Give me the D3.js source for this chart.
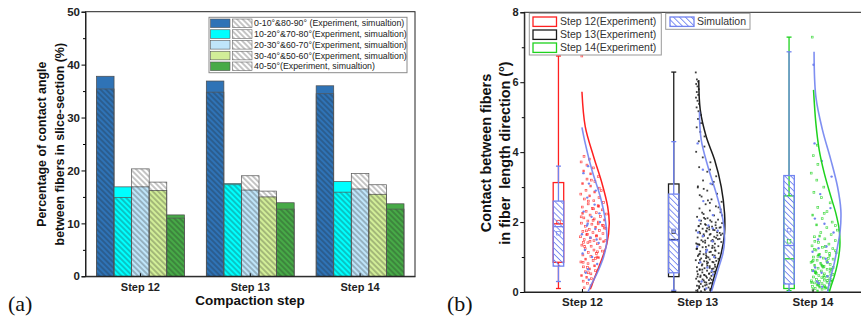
<!DOCTYPE html>
<html><head><meta charset="utf-8">
<script src="https://cdn.jsdelivr.net/npm/d3@7"></script>
<style>
html,body{margin:0;padding:0;background:#fff;}
svg{display:block;font-family:"Liberation Sans",Arial,sans-serif;}
</style>
</head><body>
<svg id="chart" width="861" height="320"></svg>
<script>
// ---------- Panel (a): share of contact angles per compaction step ----------
const steps = ["Step 12", "Step 13", "Step 14"];
const angleClasses = [
  "0-10°&80-90° (Experiment, simualtion)",
  "10-20°&70-80°(Experiment, simualtion)",
  "20-30°&60-70°(Experiment, simualtion)",
  "30-40°&50-60°(Experiment, simualtion)",
  "40-50°(Experiment, simualtion)"
];
// experiment (solid) and simulation (hatched) percentages, one row per step
const experimentPct = [
  [37.8, 16.9, 16.9, 16.2, 11.6],
  [36.9, 17.5, 16.3, 15.0, 13.9],
  [36.0, 17.9, 16.5, 15.5, 13.7]
];
const simulationPct = [
  [35.4, 14.9, 20.3, 17.8, 11.0],
  [34.8, 17.3, 19.0, 16.1, 12.7],
  [34.5, 15.9, 19.4, 17.3, 12.7]
];
const yTicksA = [0, 10, 20, 30, 40, 50];

// ---------- Panel (b): contact angle along the fibre length ----------
const expLabels = ["Step 12(Experiment)", "Step 13(Experiment)", "Step 14(Experiment)"];
const simLabel = "Simulation";
// box statistics (°)
const expBoxes = [
  {min: 0.10, q1: 0.85, med: 1.95, q3: 3.13, max: 6.75, mean: 2.00},
  {min: 0.02, q1: 0.44, med: 1.50, q3: 3.09, max: 6.29, mean: 1.72},
  {min: 0.04, q1: 0.10, med: 0.95, q3: 2.75, max: 7.29, mean: 1.45}
];
const simBoxes = [
  {min: 0.30, q1: 0.74, med: 1.87, q3: 2.60, max: 3.60, mean: 1.68},
  {min: 0.05, q1: 0.55, med: 1.48, q3: 2.80, max: 4.30, mean: 1.75},
  {min: 0.00, q1: 0.23, med: 1.33, q3: 3.33, max: 6.87, mean: 1.77}
];
// distribution curves: [angle, density]
const expCurves = [
  [[0.08,0.111],[0.34,0.156],[0.82,0.244],[1.39,0.333],[1.96,0.364],[2.44,0.343],[3.11,0.267],[3.87,0.156],[4.73,0.044],[5.73,0.0]],
  [[0.0,0.178],[0.3,0.209],[0.63,0.253],[1.11,0.32],[1.68,0.364],[2.25,0.364],[3.01,0.32],[3.78,0.231],[4.44,0.12],[5.21,0.04],[6.06,0.02]],
  [[0.0,0.223],[0.15,0.244],[0.44,0.289],[0.82,0.333],[1.3,0.364],[1.77,0.356],[2.25,0.311],[2.73,0.244],[3.4,0.156],[4.06,0.089],[4.83,0.044],[5.78,0.013]]
];
const simCurves = [
  [[0.0,0.08],[0.25,0.133],[0.53,0.2],[1.01,0.289],[1.49,0.333],[2.06,0.311],[2.73,0.244],[3.49,0.133],[4.25,0.044],[4.71,0.0]],
  [[0.0,0.187],[0.15,0.209],[0.63,0.276],[1.11,0.343],[1.49,0.364],[2.06,0.343],[2.82,0.253],[3.58,0.143],[4.35,0.053],[5.16,0.03]],
  [[0.0,0.2],[0.44,0.244],[0.82,0.289],[1.3,0.333],[1.77,0.369],[2.35,0.377],[3.01,0.333],[3.78,0.244],[4.63,0.133],[5.59,0.044],[6.87,0.02]]
];
// measured contact angles (°)
const expPoints12 = [0.12,0.18,0.25,0.31,0.38,0.42,0.47,0.52,0.58,0.61,0.66,0.72,0.75,0.81,0.86,0.9,0.94,0.98,1.02,1.06,1.1,1.13,1.17,1.2,1.24,1.27,1.31,1.34,1.38,1.41,1.44,1.47,1.5,1.52,1.55,1.58,1.61,1.64,1.67,1.7,1.73,1.76,1.79,1.82,1.85,1.88,1.91,1.94,1.97,2.0,2.03,2.06,2.09,2.12,2.16,2.2,2.23,2.27,2.31,2.35,2.39,2.43,2.47,2.52,2.56,2.61,2.66,2.7,2.75,2.8,2.86,2.91,2.97,3.03,3.1,3.16,3.23,3.3,3.38,3.46,3.55,3.63,3.72,3.8,3.88,6.75,
  0.55,0.85,1.15,1.45,1.48,1.6,1.75,1.9,2.05,2.25,2.45,2.6,2.9,3.2,1.3,1.0,0.7,2.15,1.95,1.65,1.83,2.38,1.42,0.96];
const expPoints13 = [0.02,0.05,0.08,0.11,0.13,0.16,0.18,0.21,0.23,0.26,0.28,0.31,0.34,0.36,0.38,0.41,0.43,0.46,0.48,0.51,0.53,0.56,0.58,0.61,0.63,0.66,0.68,0.71,0.74,0.76,0.78,0.81,0.83,0.86,0.88,0.91,0.93,0.96,0.98,1.01,1.03,1.06,1.08,1.11,1.14,1.16,1.18,1.21,1.23,1.26,1.28,1.31,1.33,1.36,1.38,1.41,1.43,1.46,1.48,1.51,1.54,1.56,1.58,1.61,1.63,1.66,1.68,1.71,1.73,1.76,1.78,1.81,1.84,1.86,1.88,1.91,1.94,1.97,2.01,2.04,2.07,2.11,2.15,2.19,2.23,2.28,2.33,2.39,2.45,2.51,2.58,2.65,2.73,2.81,2.9,2.99,3.08,3.19,3.31,3.44,3.57,3.71,3.85,4.01,4.16,4.31,4.45,4.58,4.71,4.83,4.95,5.06,5.17,5.28,5.38,5.47,5.56,5.64,5.72,5.8,5.88,5.95,6.02,6.08,6.28,
  0.06,0.14,0.24,0.33,0.44,0.52,0.64,0.72,0.84,0.92,1.04,1.12,1.24,1.32,1.44,1.52,1.64,1.72,1.83,1.92,0.09,0.19,0.29,0.39,0.49,0.59,0.69,0.79,0.89,0.99,1.09,1.19,1.29,1.39,1.49,1.59,1.69,1.79,1.89,1.99,2.09,2.19,0.45,0.65,0.85,1.05,1.25,1.45,1.65,1.85,2.05,1.35,1.55,1.75,0.95,1.15,2.27,2.42,2.62,3.02,3.5,2.95,0.35,0.75,1.95,1.62,1.82,
  0.04,0.27,0.47,0.67,0.87,1.07,1.27,1.47,1.67,1.87,0.17,0.57,0.97,1.37,1.77,2.12,2.36,2.55,2.77,3.15];
const expPoints14 = [0.03,0.05,0.08,0.1,0.12,0.14,0.16,0.18,0.2,0.22,0.24,0.26,0.28,0.3,0.32,0.34,0.36,0.38,0.41,0.43,0.45,0.47,0.5,0.52,0.55,0.57,0.6,0.62,0.65,0.68,0.7,0.73,0.76,0.79,0.82,0.85,0.88,0.91,0.94,0.97,1.0,1.04,1.08,1.12,1.16,1.2,1.24,1.28,1.32,1.37,1.42,1.47,1.52,1.58,1.64,1.7,1.77,1.84,1.92,2.0,2.1,2.2,2.3,2.42,2.55,2.7,2.85,3.0,3.2,3.4,3.65,3.9,4.2,7.29,
  0.07,0.15,0.25,0.35,0.46,0.56,0.66,0.77,0.87,0.96,1.06,1.18,1.3,1.45,0.11,0.21,0.31,0.42,0.53,0.64,0.74,0.9,1.1,1.6,1.9,2.25,0.6,0.33,0.19,0.27,0.84,1.02,0.48,0.71,1.22];
// simulated contact angles (°)
const simPoints12 = [0.35,0.55,0.8,1.0,1.2,1.4,1.55,1.65,1.8,1.9,2.0,2.15,2.3,2.5,2.7,2.9,3.1,3.4,3.6,0.65,1.1,1.5,1.95,2.25];
const simPoints13 = [0.1,0.3,0.5,0.7,0.85,1.0,1.15,1.3,1.45,1.6,1.75,1.9,2.05,2.2,2.6,3.1,3.5,4.25,0.6,1.2,1.7,1.82];
const simPoints14 = [0.15,0.3,0.45,0.55,0.7,0.85,1.0,1.15,1.3,1.5,1.7,1.95,2.1,2.4,2.8,3.3,3.75,4.25,6.5,0.25,0.6,0.95,1.25];
const yTicksB = [0, 2, 4, 6, 8];

// ---------- styles ----------
const classFill = ["#2f73b6", "#00ffff", "#bfe5fa", "#d2ee98", "#47aa47"];
const expStroke = ["#ff2020", "#1c1c1c", "#1ed21e"];
const simStroke = "#7183f0";
const boldFont = "bold";

const svg = d3.select("#chart");
const defs = svg.append("defs");

function hatch(id, color, spacing, width, opacity) {
  const p = defs.append("pattern").attr("id", id)
    .attr("patternUnits", "userSpaceOnUse")
    .attr("width", spacing).attr("height", spacing)
    .attr("patternTransform", "rotate(-45)");
  p.append("line").attr("x1", spacing / 2).attr("x2", spacing / 2)
    .attr("y1", -1).attr("y2", spacing + 1)
    .attr("stroke", color).attr("stroke-width", width).attr("stroke-opacity", opacity);
}
hatch("hatchDark", "#1e1e1e", 3.9, 0.85, 0.6);
hatch("hatchBlue", simStroke, 4.2, 0.9, 1);

// ================= Panel (a) =================
const gA = svg.append("g");
const xA = d3.scaleBand().domain(steps).range([85.5, 415]).paddingInner(0.2).paddingOuter(0.1);
const xInner = d3.scaleBand().domain(d3.range(angleClasses.length)).range([0, xA.bandwidth()]);
const yA = d3.scaleLinear().domain([0, 50]).range([276.3, 11.7]);

steps.forEach((s, si) => {
  const g = gA.append("g").attr("transform", `translate(${xA(s)},0)`);
  angleClasses.forEach((c, ci) => {
    const x = xInner(ci), w = xInner.bandwidth();
    const e = experimentPct[si][ci], m = simulationPct[si][ci];
    // simulation underlay (white where it exceeds the experiment)
    g.append("rect").attr("x", x).attr("width", w)
      .attr("y", yA(m)).attr("height", yA(0) - yA(m)).attr("fill", "#fff");
    // experiment bar
    g.append("rect").attr("x", x).attr("width", w)
      .attr("y", yA(e)).attr("height", yA(0) - yA(e))
      .attr("fill", classFill[ci]).attr("stroke", "#4a4a4a").attr("stroke-width", 0.7);
    // simulation hatch on top
    g.append("rect").attr("x", x).attr("width", w)
      .attr("y", yA(m)).attr("height", yA(0) - yA(m))
      .attr("fill", "url(#hatchDark)").attr("stroke", "#555").attr("stroke-width", 0.7);
  });
});

// frame
gA.append("rect").attr("x", 85.5).attr("y", 11.7).attr("width", 415 - 85.5).attr("height", 276.3 - 11.7)
  .attr("fill", "none").attr("stroke", "#222").attr("stroke-width", 1);

const axA = gA.append("g").attr("transform", "translate(85.5,0)")
  .call(d3.axisLeft(yA).tickValues(yTicksA).tickSize(4).tickPadding(1.5).tickFormat(d3.format("d")));
axA.select(".domain").attr("stroke", "#222");
axA.selectAll("text").attr("font-size", 11.5).attr("font-weight", boldFont).attr("fill", "#222")
  .attr("font-family", "Liberation Sans, Arial, sans-serif");
gA.append("g").attr("transform", "translate(85.5,0)")
  .call(d3.axisLeft(yA).tickValues(yTicksA.slice(0, -1).map(v => v + 5)).tickSize(2.5).tickFormat(""))
  .select(".domain").remove();

const bxA = gA.append("g").attr("transform", "translate(0,276.3)")
  .call(d3.axisBottom(xA).tickSizeInner(-3).tickSizeOuter(0).tickPadding(6.6));
bxA.select(".domain").attr("stroke", "#222");
bxA.selectAll("text").attr("font-size", 11).attr("font-weight", boldFont).attr("fill", "#222")
  .attr("font-family", "Liberation Sans, Arial, sans-serif");

gA.append("text").attr("x", 250).attr("y", 305).attr("text-anchor", "middle")
  .attr("font-size", 13.5).attr("font-weight", boldFont).attr("fill", "#111").text("Compaction step");
const labA = ["Percentage of contact angle", "between fibers in slice-section (%)"];
labA.forEach((t, i) => {
  gA.append("text").attr("transform", `translate(${41.7 + i * 18.3},144.2) rotate(-90)`)
    .attr("text-anchor", "middle").attr("dy", "0.36em")
    .attr("font-size", 12.4).attr("font-weight", boldFont).attr("fill", "#111").text(t);
});

// legend (a)
const legA = gA.append("g");
legA.append("rect").attr("x", 209).attr("y", 17.3).attr("width", 198).attr("height", 55.4)
  .attr("fill", "#fff").attr("stroke", "#8a8a8a").attr("stroke-width", 1);
angleClasses.forEach((c, i) => {
  const cy = 23.3 + i * 10.75;
  legA.append("rect").attr("x", 210.5).attr("y", cy - 4.3).attr("width", 19.5).attr("height", 8.6)
    .attr("fill", classFill[i]).attr("stroke", "#555").attr("stroke-width", 0.6);
  legA.append("rect").attr("x", 232.5).attr("y", cy - 4.3).attr("width", 19.5).attr("height", 8.6)
    .attr("fill", "url(#hatchDark)").attr("stroke", "#666").attr("stroke-width", 0.6);
  legA.append("text").attr("x", 254).attr("y", cy).attr("dy", "0.35em")
    .attr("font-size", 8.8).attr("fill", "#222").text(c);
});

svg.append("text").attr("x", 8).attr("y", 311).attr("font-family", "Liberation Serif, Times New Roman, serif")
  .attr("font-size", 22).attr("fill", "#111").text("(a)");

// ================= Panel (b) =================
const gB = svg.append("g");
const xB = d3.scalePoint().domain(steps).range([524.3, 870.2]).padding(0.5);
const yB = d3.scaleLinear().domain([0, 8]).range([292, 12.3]);
const dens = d3.scaleLinear().domain([0, 0.4]).range([0, 30]);
const boxShift = -23.5;

gB.append("rect").attr("x", 524.3).attr("y", 12.3).attr("width", 870 - 524.3).attr("height", 292 - 12.3)
  .attr("fill", "none").attr("stroke", "#222").attr("stroke-width", 1);

function widthAt(curve, v) {
  if (v <= curve[0][0]) return dens(curve[0][1]);
  if (v >= curve[curve.length - 1][0]) return dens(curve[curve.length - 1][1]);
  const i = d3.bisector(d => d[0]).right(curve, v);
  const a = curve[i - 1], b = curve[i];
  const t = (v - a[0]) / (b[0] - a[0]);
  return dens(a[1] + t * (b[1] - a[1]));
}
// spread each point across the half-violin width at its angle
function spread(i) { return (i * 0.6180339887 + 0.37) % 1; }

const expPointSets = [expPoints12, expPoints13, expPoints14];
const simPointSets = [simPoints12, simPoints13, simPoints14];

steps.forEach((s, si) => {
  const base = xB(s);
  const g = gB.append("g");
  // experiment points
  const pts = g.selectAll(".pe").data(expPointSets[si]).join("rect")
    .attr("x", (v, i) => base - 1.5 + spread(i) * (widthAt(expCurves[si], v) * 0.95 + 1.5) - 0.9)
    .attr("y", v => yB(v) - 0.9).attr("width", 1.8).attr("height", 1.8);
  if (si === 1) {
    pts.attr("fill", expStroke[si]).attr("fill-opacity", 0.85);
  } else {
    pts.attr("fill", "none").attr("stroke", expStroke[si]).attr("stroke-width", 0.7).attr("stroke-opacity", 0.8);
  }
  // simulation points
  g.selectAll(".ps").data(simPointSets[si]).join("circle")
    .attr("cx", (v, i) => base - 0.5 + spread(i + 7) * widthAt(simCurves[si], v) * 0.9)
    .attr("cy", v => yB(v)).attr("r", 1.2).attr("fill", simStroke);

  // distribution curves
  const line = d3.line().x(d => base + dens(d[1])).y(d => yB(d[0])).curve(d3.curveCatmullRom);
  g.append("path").attr("d", line(expCurves[si])).attr("fill", "none")
    .attr("stroke", expStroke[si]).attr("stroke-width", 1.5);
  g.append("path").attr("d", line(simCurves[si])).attr("fill", "none")
    .attr("stroke", simStroke).attr("stroke-width", 1.6).attr("stroke-opacity", 0.9);

  // box plots
  const bx = base + boxShift;
  function box(st, color, w, hatched) {
    const bg = g.append("g");
    bg.append("line").attr("x1", bx).attr("x2", bx).attr("y1", yB(st.max)).attr("y2", yB(st.q3))
      .attr("stroke", color).attr("stroke-width", 1.3);
    bg.append("line").attr("x1", bx).attr("x2", bx).attr("y1", yB(st.q1)).attr("y2", yB(st.min))
      .attr("stroke", color).attr("stroke-width", 1.3);
    [st.max, st.min].forEach(v => bg.append("line").attr("x1", bx - 2.5).attr("x2", bx + 2.5)
      .attr("y1", yB(v)).attr("y2", yB(v)).attr("stroke", color).attr("stroke-width", 1.3));
    bg.append("rect").attr("x", bx - w / 2).attr("width", w).attr("y", yB(st.q3))
      .attr("height", yB(st.q1) - yB(st.q3))
      .attr("fill", hatched ? "url(#hatchBlue)" : "none").attr("stroke", color).attr("stroke-width", 1.3);
    bg.append("line").attr("x1", bx - w / 2).attr("x2", bx + w / 2).attr("y1", yB(st.med)).attr("y2", yB(st.med))
      .attr("stroke", color).attr("stroke-width", 1.3);
    bg.append("rect").attr("x", bx - 1.8).attr("y", yB(st.mean) - 1.8).attr("width", 3.6).attr("height", 3.6)
      .attr("fill", "none").attr("stroke", color).attr("stroke-width", 0.7);
  }
  box(expBoxes[si], expStroke[si], 10.5, false);
  box(simBoxes[si], simStroke, 10.5, true);
});

const axB = gB.append("g").attr("transform", "translate(524.3,0)")
  .call(d3.axisLeft(yB).tickValues(yTicksB).tickSize(4).tickPadding(1.6).tickFormat(d3.format("d")));
axB.select(".domain").attr("stroke", "#222");
axB.selectAll("text").attr("font-size", 11).attr("font-weight", boldFont).attr("fill", "#222")
  .attr("font-family", "Liberation Sans, Arial, sans-serif");
gB.append("g").attr("transform", "translate(524.3,0)")
  .call(d3.axisLeft(yB).tickValues([1, 3, 5, 7]).tickSize(2.5).tickFormat(""))
  .select(".domain").remove();
const bxB = gB.append("g").attr("transform", "translate(0,292)")
  .call(d3.axisBottom(xB).tickSizeInner(-3).tickSizeOuter(0).tickPadding(6.3));
bxB.select(".domain").attr("stroke", "#222");
bxB.selectAll("text").attr("font-size", 11.5).attr("font-weight", boldFont).attr("fill", "#222")
  .attr("font-family", "Liberation Sans, Arial, sans-serif");

const labB = ["Contact between fibers", "in fiber\u00a0 length direction (°)"];
labB.forEach((t, i) => {
  gB.append("text").attr("transform", `translate(${486 + i * 19},153) rotate(-90)`)
    .attr("text-anchor", "middle").attr("dy", "0.36em")
    .attr("font-size", 14.4).attr("font-weight", boldFont).attr("fill", "#111").text(t);
});

// legends (b)
const legB = gB.append("g");
legB.append("rect").attr("x", 529.3).attr("y", 13.3).attr("width", 132).attr("height", 41.7)
  .attr("fill", "#fff").attr("stroke", "#999").attr("stroke-width", 1);
expLabels.forEach((t, i) => {
  const cy = 21.7 + i * 13;
  legB.append("rect").attr("x", 533).attr("y", cy - 4.7).attr("width", 23.5).attr("height", 9.4)
    .attr("fill", "#fff").attr("stroke", expStroke[i]).attr("stroke-width", 1.3);
  legB.append("text").attr("x", 560).attr("y", cy).attr("dy", "0.36em")
    .attr("font-size", 10.5).attr("fill", "#333").text(t);
});
legB.append("rect").attr("x", 665.7).attr("y", 13.3).attr("width", 84.3).attr("height", 16)
  .attr("fill", "#fff").attr("stroke", "#999").attr("stroke-width", 1);
legB.append("rect").attr("x", 670).attr("y", 17).attr("width", 24).attr("height", 9.4)
  .attr("fill", "url(#hatchBlue)").attr("stroke", simStroke).attr("stroke-width", 1.3);
legB.append("text").attr("x", 697).attr("y", 21.7).attr("dy", "0.36em")
  .attr("font-size", 10.5).attr("fill", "#333").text(simLabel);

svg.append("text").attr("x", 447).attr("y", 311).attr("font-family", "Liberation Serif, Times New Roman, serif")
  .attr("font-size", 22).attr("fill", "#111").text("(b)");
</script>
</body></html>
